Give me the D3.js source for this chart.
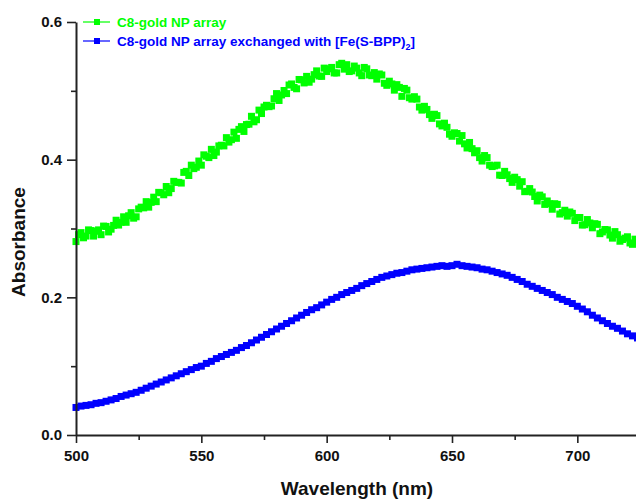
<!DOCTYPE html>
<html>
<head>
<meta charset="utf-8">
<script src="https://cdn.jsdelivr.net/npm/d3@7"></script>
<style>
  body { margin: 0; background: #fff; }
  text { font-family: "Liberation Sans", Arial, sans-serif; font-weight: bold; }
</style>
</head>
<body>
<script>
// wavelength grid (nm), even readings
var wavelength = [500,502,504,506,508,510,512,514,516,518,520,522,524,526,528,530,532,534,536,538,
  540,542,544,546,548,550,552,554,556,558,560,562,564,566,568,570,572,574,576,578,
  580,582,584,586,588,590,592,594,596,598,600,602,604,606,608,610,612,614,616,618,
  620,622,624,626,628,630,632,634,636,638,640,642,644,646,648,650,652,654,656,658,
  660,662,664,666,668,670,672,674,676,678,680,682,684,686,688,690,692,694,696,698,
  700,702,704,706,708,710,712,714,716,718,720,722,724];

// odd wavelengths (nm), only used by the noisy green trace
var wavelengthOdd = [501,503,505,507,509,511,513,515,517,519,521,523,525,527,529,531,533,535,537,539,
  541,543,545,547,549,551,553,555,557,559,561,563,565,567,569,571,573,575,577,579,
  581,583,585,587,589,591,593,595,597,599,601,603,605,607,609,611,613,615,617,619,
  621,623,625,627,629,631,633,635,637,639,641,643,645,647,649,651,653,655,657,659,
  661,663,665,667,669,671,673,675,677,679,681,683,685,687,689,691,693,695,697,699,
  701,703,705,707,709,711,713,715,717,719,721,723];

// C8-gold NP array (noisy readings)
var absC8 = [0.281,0.294,0.289,0.297,0.296,0.291,0.303,0.299,0.312,0.309,
  0.309,0.323,0.317,0.331,0.339,0.338,0.339,0.352,0.361,0.358,
  0.367,0.366,0.383,0.392,0.389,0.392,0.405,0.415,0.411,0.421,
  0.432,0.429,0.431,0.448,0.451,0.463,0.458,0.467,0.479,0.478,
  0.496,0.494,0.496,0.510,0.503,0.516,0.521,0.517,0.529,0.521,
  0.528,0.534,0.526,0.540,0.538,0.529,0.533,0.522,0.532,0.522,
  0.517,0.523,0.508,0.510,0.509,0.492,0.501,0.488,0.488,0.472,
  0.473,0.460,0.464,0.449,0.447,0.434,0.438,0.435,0.417,0.416,
  0.413,0.398,0.403,0.390,0.392,0.377,0.378,0.367,0.371,0.368,
  0.354,0.353,0.340,0.346,0.340,0.328,0.335,0.323,0.318,0.322,
  0.316,0.305,0.313,0.301,0.306,0.295,0.298,0.286,0.291,0.284,
  0.288,0.277,0.282];

var absC8Odd = [0.291,0.2865,0.298,0.289,0.298,0.3035,0.295,0.3045,0.305,0.317,
  0.3185,0.315,0.3285,0.330,0.331,0.3455,0.3525,0.349,0.352,0.3685,
  0.367,0.3815,0.377,0.387,0.398,0.407,0.403,0.406,0.420,0.420,
  0.4255,0.440,0.444,0.441,0.4515,0.455,0.472,0.4765,0.477,0.4885,
  0.486,0.5005,0.5085,0.505,0.5165,0.5115,0.5125,0.5235,0.5215,0.533,
  0.532,0.526,0.538,0.5315,0.528,0.536,0.526,0.534,0.523,0.5265,
  0.5245,0.511,0.514,0.501,0.505,0.5035,0.490,0.4915,0.4765,0.4775,
  0.4655,0.466,0.452,0.453,0.437,0.439,0.427,0.423,0.425,0.410,
  0.403,0.406,0.392,0.391,0.3775,0.383,0.3725,0.3745,0.3615,0.3535,
  0.358,0.3465,0.3485,0.335,0.336,0.336,0.321,0.3265,0.324,0.3115,
  0.316,0.3055,0.308,0.307,0.2925,0.2985,0.2905,0.2955,0.2815,0.286,
  0.279,0.2845];

// C8-gold NP array exchanged with [Fe(S-BPP)2]
var absFe = [0.040,0.042,0.043,0.044,0.046,0.047,0.049,0.051,0.053,0.056,0.058,0.060,0.062,0.065,0.068,0.071,0.074,0.077,0.080,0.083,
  0.086,0.089,0.092,0.095,0.098,0.100,0.104,0.107,0.111,0.114,0.117,0.120,0.123,0.127,0.130,0.134,0.138,0.142,0.146,0.150,
  0.154,0.158,0.162,0.166,0.170,0.174,0.178,0.182,0.185,0.189,0.193,0.197,0.200,0.204,0.207,0.210,0.213,0.217,0.220,0.223,
  0.226,0.229,0.231,0.233,0.235,0.236,0.238,0.240,0.241,0.242,0.243,0.244,0.245,0.246,0.245,0.246,0.248,0.246,0.245,0.244,
  0.243,0.241,0.240,0.238,0.236,0.234,0.232,0.229,0.226,0.223,0.219,0.216,0.213,0.210,0.207,0.204,0.200,0.197,0.194,0.191,
  0.187,0.183,0.179,0.174,0.170,0.166,0.162,0.158,0.155,0.151,0.147,0.144,0.141];

var xMajor = [500,550,600,650,700];
var xMinor = [525,575,625,675,725];
var yMajor = [0.0,0.2,0.4,0.6];
var yMinor = [0.1,0.3,0.5];

var seriesNames = ["C8-gold NP array", "C8-gold NP array exchanged with [Fe(S-BPP)", "2", "]"];
var colors = ["#00ff00", "#0000ff"];

var width = 636, height = 499;

var svg = d3.select("body").append("svg")
    .attr("width", width)
    .attr("height", height);

var x = d3.scaleLinear().domain([500, 725]).range([76, 640]);
var y = d3.scaleLinear().domain([0, 0.6]).range([435, 22]);

var greenPts = wavelength.map(function(w, i) { return [w, absC8[i]]; })
    .concat(wavelengthOdd.map(function(w, i) { return [w, absC8Odd[i]]; }))
    .sort(function(a, b) { return a[0] - b[0]; });
var bluePts = wavelength.map(function(w, i) { return [w, absFe[i]]; });

// green is scattered squares only; blue squares sit on a thick line
var series = [
  {pts: greenPts, color: colors[0], size: 7, lineW: 0},
  {pts: bluePts, color: colors[1], size: 7, lineW: 4}
];

var line = d3.line()
    .x(function(d) { return x(d[0]); })
    .y(function(d) { return y(d[1]); });

series.forEach(function(s) {
  if (s.lineW) {
    svg.append("path")
        .datum(s.pts)
        .attr("fill", "none")
        .attr("stroke", s.color)
        .attr("stroke-width", s.lineW)
        .attr("d", line);
  }
  svg.append("g").selectAll("rect")
      .data(s.pts)
    .enter().append("rect")
      .attr("x", function(d) { return x(d[0]) - s.size / 2; })
      .attr("y", function(d) { return y(d[1]) - s.size / 2; })
      .attr("width", s.size)
      .attr("height", s.size)
      .attr("fill", s.color);
});

// x axis
svg.append("g")
    .attr("transform", "translate(0,435)")
    .call(d3.axisBottom(x).tickValues(xMajor).tickSize(8).tickSizeOuter(0).tickPadding(7).tickFormat(d3.format("d")));
svg.append("g")
    .attr("transform", "translate(0,435)")
    .call(d3.axisBottom(x).tickValues(xMinor).tickSize(5).tickSizeOuter(0).tickFormat(""))
    .select(".domain").remove();

// y axis
svg.append("g")
    .attr("transform", "translate(76,0)")
    .call(d3.axisLeft(y).tickValues(yMajor).tickSize(9).tickSizeOuter(0).tickPadding(5).tickFormat(d3.format(".1f")));
svg.append("g")
    .attr("transform", "translate(76,0)")
    .call(d3.axisLeft(y).tickValues(yMinor).tickSize(5).tickSizeOuter(0).tickFormat(""))
    .select(".domain").remove();

svg.selectAll(".domain").attr("stroke", "#222").attr("stroke-width", 2);
svg.selectAll(".tick line").attr("stroke", "#222").attr("stroke-width", 1.6);
svg.selectAll(".tick text")
    .attr("fill", "#111")
    .style("font-size", "15px")
    .style("font-family", "'Liberation Sans', Arial, sans-serif")
    .style("font-weight", "bold");

// axis titles
svg.append("text")
    .attr("x", 357)
    .attr("y", 495)
    .attr("text-anchor", "middle")
    .style("font-size", "19px")
    .attr("fill", "#111")
    .text("Wavelength (nm)");

svg.append("text")
    .attr("transform", "translate(25,242) rotate(-90)")
    .attr("text-anchor", "middle")
    .style("font-size", "19px")
    .attr("fill", "#111")
    .text("Absorbance");

// legend
var legend = svg.append("g");
[22, 41].forEach(function(ly, i) {
  legend.append("line")
      .attr("x1", 83).attr("x2", 110)
      .attr("y1", ly).attr("y2", ly)
      .attr("stroke", colors[i])
      .attr("stroke-width", 1.2);
  legend.append("rect")
      .attr("x", 94).attr("y", ly - 3)
      .attr("width", 6).attr("height", 6)
      .attr("fill", colors[i]);
});
legend.append("text")
    .attr("x", 117).attr("y", 26.5)
    .style("font-size", "13.5px")
    .attr("fill", colors[0])
    .text(seriesNames[0]);
var t2 = legend.append("text")
    .attr("x", 117).attr("y", 45.5)
    .style("font-size", "13.5px")
    .attr("fill", colors[1]);
t2.append("tspan").text(seriesNames[1]);
t2.append("tspan").attr("dy", 4).style("font-size", "9px").text(seriesNames[2]);
t2.append("tspan").attr("dy", -4).text(seriesNames[3]);
</script>
</body>
</html>
